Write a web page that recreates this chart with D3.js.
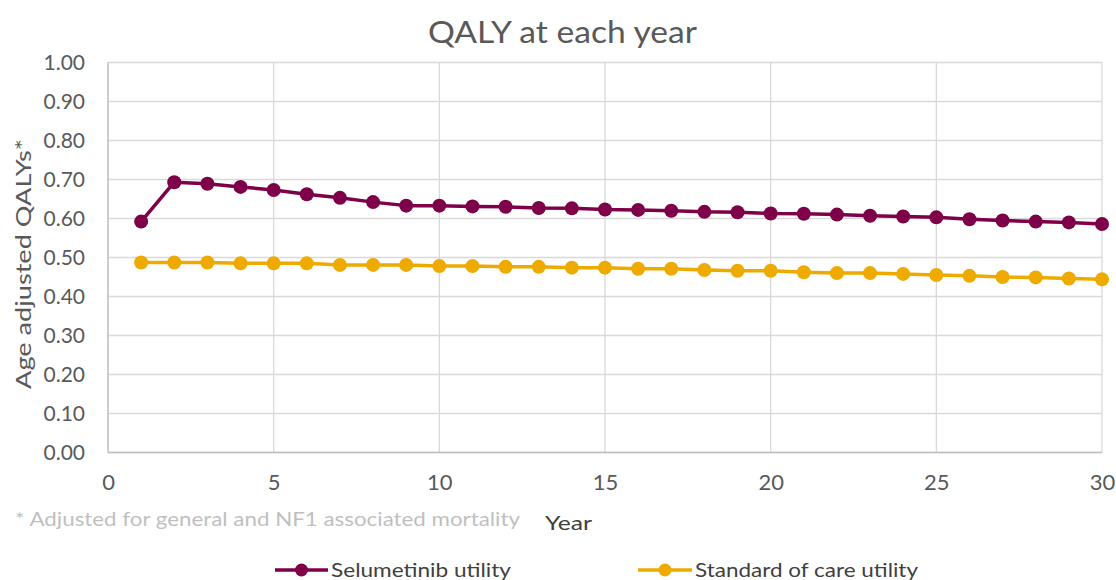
<!DOCTYPE html>
<html><head><meta charset="utf-8">
<script src="https://cdn.jsdelivr.net/npm/d3@7/dist/d3.min.js"></script>
<style>
html,body{margin:0;padding:0;background:#fff;}
svg{display:block;font-family:Lato,"Open Sans",sans-serif;}
</style></head>
<body>
<svg id="chart" width="1116" height="580"></svg>
<script>
const years = d3.range(1, 31);
const selumetinib = [0.592,0.693,0.689,0.681,0.673,0.662,0.653,0.642,0.633,0.633,
                     0.631,0.630,0.627,0.626,0.623,0.622,0.620,0.617,0.616,0.613,
                     0.612,0.610,0.607,0.605,0.603,0.598,0.595,0.592,0.590,0.586];
const standardCare = [0.487,0.487,0.487,0.485,0.485,0.485,0.481,0.481,0.481,0.478,
                      0.478,0.476,0.476,0.474,0.474,0.471,0.471,0.468,0.466,0.466,
                      0.462,0.460,0.460,0.458,0.455,0.453,0.450,0.449,0.446,0.444];
const yTicks = [0,0.1,0.2,0.3,0.4,0.5,0.6,0.7,0.8,0.9,1.0];
const xTicks = [0,5,10,15,20,25,30];
const seriesNames = ["Selumetinib utility","Standard of care utility"];
const colors = ["#7d0049","#efaa00"];

const svg = d3.select("#chart");
const L = 108, R = 1102, T = 62.5, B = 452.5;
const x = d3.scaleLinear().domain([0,30]).range([L,R]);
const y = d3.scaleLinear().domain([0,1]).range([B,T]);

// gridlines
svg.append("g").selectAll("line").data(yTicks).join("line")
  .attr("x1",L).attr("x2",R).attr("y1",d=>y(d)).attr("y2",d=>y(d))
  .attr("stroke","#d9d9d9").attr("stroke-width",1.3);
svg.append("g").selectAll("line").data(xTicks).join("line")
  .attr("y1",T).attr("y2",B).attr("x1",d=>x(d)).attr("x2",d=>x(d))
  .attr("stroke","#d9d9d9").attr("stroke-width",1.3);
svg.append("line").attr("x1",L).attr("x2",L).attr("y1",T).attr("y2",B).attr("stroke","#bfbfbf").attr("stroke-width",1.3);
svg.append("line").attr("x1",L).attr("x2",R).attr("y1",B).attr("y2",B).attr("stroke","#bfbfbf").attr("stroke-width",1.3);

// axes labels
const yAxis = d3.axisLeft(y).tickValues(yTicks).tickFormat(d3.format(".2f")).tickSize(0).tickPadding(23);
const gy = svg.append("g").attr("transform",`translate(${L},0)`).call(yAxis);
gy.select(".domain").remove();
gy.selectAll("text").attr("fill","#595959").attr("font-size",21).attr("font-family","Lato,sans-serif");

const xAxis = d3.axisBottom(x).tickValues(xTicks).tickSize(0).tickPadding(22);
const gx = svg.append("g").attr("transform",`translate(0,${B})`).call(xAxis);
gx.select(".domain").remove();
gx.selectAll("text").attr("fill","#595959").attr("font-size",22).attr("font-family","Lato,sans-serif");

// title
svg.append("text").attr("x",428).attr("y",43)
  .attr("font-size",31).attr("fill","#595959")
  .attr("textLength",269).attr("lengthAdjust","spacingAndGlyphs").text("QALY at each year");

// y title
svg.append("text").attr("transform","translate(31,264) rotate(-90)").attr("text-anchor","middle")
  .attr("font-size",21).attr("fill","#595959").attr("textLength",250).attr("lengthAdjust","spacingAndGlyphs")
  .text("Age adjusted QALYs*");

// x title
svg.append("text").attr("x",545).attr("y",530).attr("font-size",19).attr("fill","#404040")
  .attr("textLength",47).attr("lengthAdjust","spacingAndGlyphs").text("Year");

// footnote
svg.append("text").attr("x",15).attr("y",526).attr("font-size",19).attr("fill","#bfbfbf")
  .attr("textLength",505).attr("lengthAdjust","spacingAndGlyphs")
  .text("* Adjusted for general and NF1 associated mortality");

// series
const allSeries = [selumetinib, standardCare];
const line = d3.line().x((d,i)=>x(years[i])).y(d=>y(d));
allSeries.forEach((vals,k)=>{
  svg.append("path").datum(vals).attr("d",line).attr("fill","none")
    .attr("stroke",colors[k]).attr("stroke-width",3.5).attr("stroke-linejoin","round");
  svg.append("g").selectAll("circle").data(vals).join("circle")
    .attr("cx",(d,i)=>x(years[i])).attr("cy",d=>y(d)).attr("r",7).attr("fill",colors[k]);
});

// legend
const legendItems = [{x1:275,x2:328,text:331,w:180},{x1:638,x2:692,text:695,w:223}];
legendItems.forEach((li,k)=>{
  const g = svg.append("g");
  g.append("line").attr("x1",li.x1).attr("x2",li.x2).attr("y1",570).attr("y2",570)
    .attr("stroke",colors[k]).attr("stroke-width",3.5);
  g.append("circle").attr("cx",(li.x1+li.x2)/2).attr("cy",570).attr("r",6.5).attr("fill",colors[k]);
  g.append("text").attr("x",li.text).attr("y",577).attr("font-size",20).attr("fill","#404040")
    .attr("textLength",li.w).attr("lengthAdjust","spacingAndGlyphs").text(seriesNames[k]);
});
</script>
</body></html>
